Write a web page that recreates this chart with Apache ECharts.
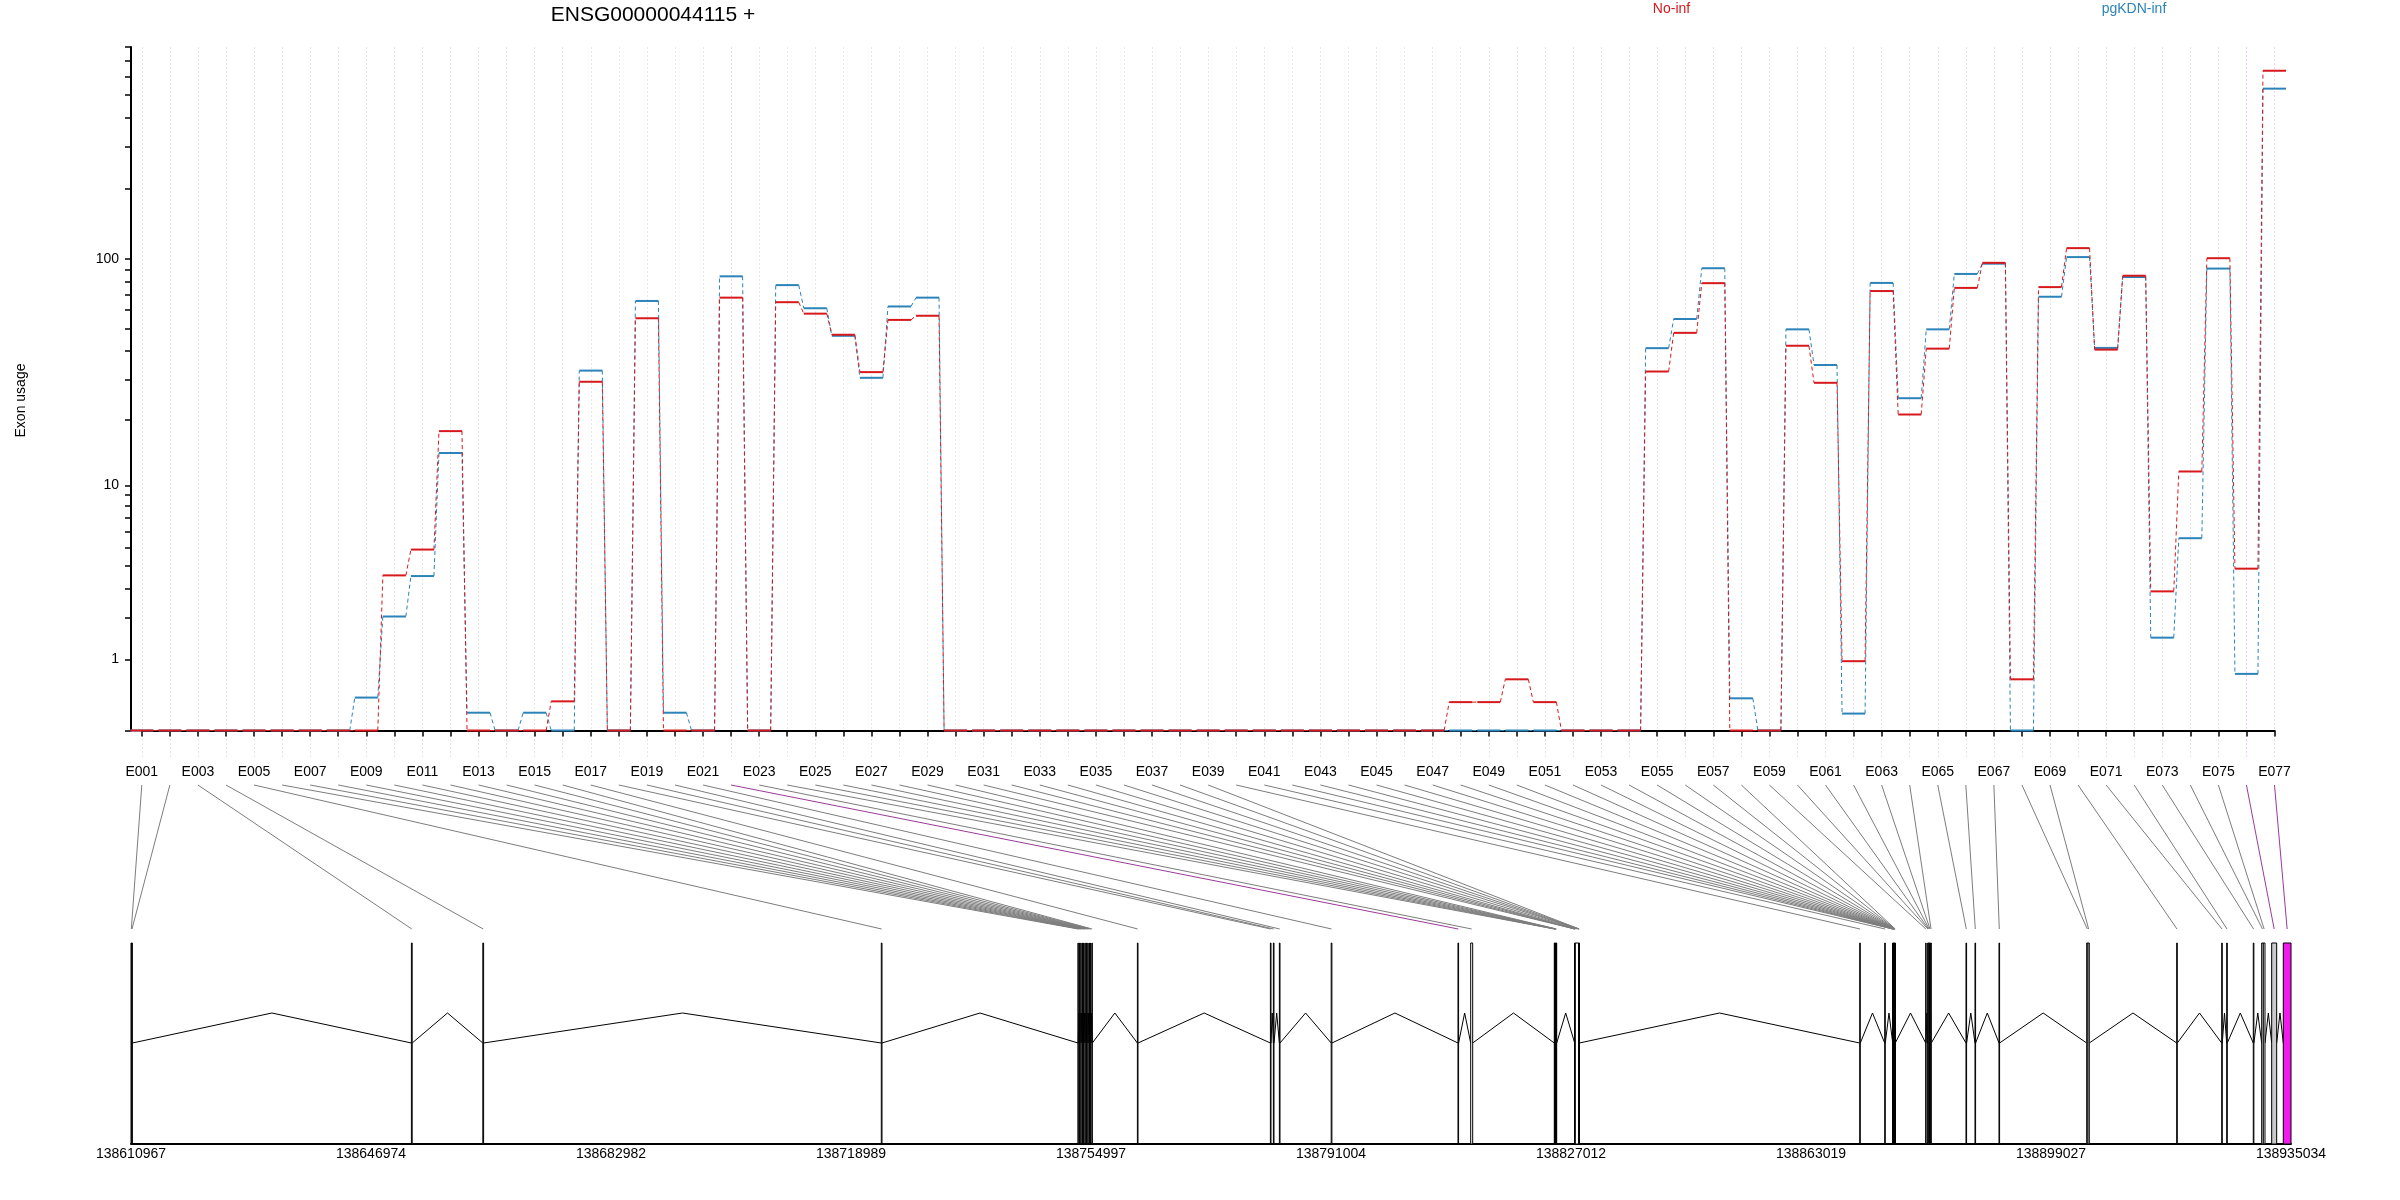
<!DOCTYPE html>
<html><head><meta charset="utf-8">
<script src="https://cdn.jsdelivr.net/npm/echarts@6/dist/echarts.min.js"></script>
<style>html,body{margin:0;padding:0;background:#fff}#c{width:2400px;height:1200px}</style>
</head><body><div id="c"></div>
<script>
const exonIds = ['E001','E002','E003','E004','E005','E006','E007','E008','E009','E010',
'E011','E012','E013','E014','E015','E016','E017','E018','E019','E020',
'E021','E022','E023','E024','E025','E026','E027','E028','E029','E030',
'E031','E032','E033','E034','E035','E036','E037','E038','E039','E040',
'E041','E042','E043','E044','E045','E046','E047','E048','E049','E050',
'E051','E052','E053','E054','E055','E056','E057','E058','E059','E060',
'E061','E062','E063','E064','E065','E066','E067','E068','E069','E070',
'E071','E072','E073','E074','E075','E076','E077'];
const noInf = [0,0,0,0,0,0,0,0,0,3.56,
4.87,17.7,0,0,0,0.33,29.3,0,55.4,0,
0,68,0,65,58,47,32.3,54.5,56.8,0,
0,0,0,0,0,0,0,0,0,0,
0,0,0,0,0,0,0,0.32,0.32,0.65,
0.32,0,0,0,32.5,47.9,78.5,0,0,42.1,
29,0.97,72.6,21,40.9,74.9,96,0.65,75.5,111,
40.5,84.5,2.9,11.6,100.5,3.87,634];
const pgKDN = [0,0,0,0,0,0,0,0,0.38,2.05,
3.53,14.1,0.19,0,0.19,0,32.8,0,65.8,0.19,
0,84,0,77,61.2,46.5,30.5,62.3,68,0,
0,0,0,0,0,0,0,0,0,0,
0,0,0,0,0,0,0,0,0,0,
0,0,0,0,41.1,55,91,0.37,0,49.6,
34.7,0.18,78.7,24.8,49.6,86,95.2,0,68.6,101.6,
41.2,83.4,1.48,5.56,90.7,0.74,532];
const exonStart = [138610967,138611057,138653035,138663748,138723535,
138753045,138753255,138753465,138753675,138753885,138754095,138754305,138754515,138754725,138754935,138755145,
138761957,138781911,138782361,138783261,138791033,138810057,138811962,
138824505,138824556,138824607,138824658,138824709,138824760,138824811,
138827565,138827588,138827610,138827633,138827655,138828165,138828188,138828210,138828233,
138870324,138874075,
138875275,138875298,138875321,138875344,138875367,138875390,138875413,138875436,138875459,138875482,138875505,138875528,138875551,138875574,138875597,138875620,138875643,
138880226,138880526,138880600,138880700,138880800,138880990,
138886272,138887622,138891223,138904381,138904576,138917883,138924635,138925385,138929376,138930636,138930876,138932136,138933877];
const exonEnd = [138611057,138611177,138653155,138663868,138723640,
138753085,138753295,138753505,138753715,138753925,138754135,138754345,138754555,138754765,138754975,138755195,
138762047,138782001,138782451,138783351,138791138,138810147,138812262,
138824556,138824607,138824658,138824709,138824760,138824811,138824865,
138827588,138827610,138827633,138827655,138828165,138828188,138828210,138828233,138828255,
138870414,138874165,
138875298,138875321,138875344,138875367,138875390,138875413,138875436,138875459,138875482,138875505,138875528,138875551,138875574,138875597,138875620,138875643,138875665,
138880286,138880600,138880700,138880800,138880950,138881066,
138886362,138887712,138891313,138904576,138904771,138917973,138924725,138925475,138929466,138930876,138931131,138932886,138935034];
const sigExons = ['E022','E076','E077'];
const yTickValues = [0,1,2,3,4,5,6,7,8,9,10,20,30,40,50,60,70,80,90,100,200,300,400,500,600,700,800];
const yLabelValues = [1,10,100];
const genomicTicks = [138610967,138646974,138682982,138718989,138754997,138791004,138827012,138863019,138899027,138935034];
const geneTitle = 'ENSG00000044115 +';
const conditions = ['No-inf','pgKDN-inf'];
const condColors = ['#D7191C','#2B83BA'];
const boxFills = {E076: '#c9c9c9', E077: '#F219ED'};

const FONT = '"Liberation Sans", Arial, Helvetica, sans-serif';
const HW = 0.41;
const tf = v => Math.log10(v + 1);
const chart = echarts.init(document.getElementById('c'), null, {renderer: 'canvas'});

// bottom panel vertical layout (units = px inside grid 2)
const CONN_TOP = 359, CONN_BOT = 215, EXON_TOP = 201, INTRON_PEAK = 131, INTRON_BASE = 101;

function segSeries(vals, color, z) {
  return {
    type: 'custom', xAxisIndex: 0, yAxisIndex: 0, z: z, clip: false, silent: true,
    data: vals.map((v, i) => [i + 1, tf(v)]),
    renderItem: function (params, api) {
      const x = api.value(0), y = api.value(1);
      const p1 = api.coord([x - HW, y]), p2 = api.coord([x + HW, y]);
      return {type: 'line', shape: {x1: p1[0], y1: p1[1], x2: p2[0], y2: p2[1]},
        style: {stroke: color, lineWidth: 2}};
    }
  };
}
function joinSeries(vals, color, z) {
  return {
    type: 'custom', xAxisIndex: 0, yAxisIndex: 0, z: z, clip: false, silent: true,
    data: vals.slice(0, -1).map((v, i) => [i + 1, tf(v), tf(vals[i + 1])]),
    renderItem: function (params, api) {
      const x = api.value(0);
      const p1 = api.coord([x + HW, api.value(1)]), p2 = api.coord([x + 1 - HW, api.value(2)]);
      return {type: 'line', shape: {x1: p1[0], y1: p1[1], x2: p2[0], y2: p2[1]},
        style: {stroke: color, lineWidth: 1, lineDash: [4, 3]}};
    }
  };
}

const gridColors = exonIds.map(id => sigExons.includes(id) ? 'rgba(242,25,237,0.22)' : 'rgba(170,170,170,0.28)');

const introns = [];
for (let i = 0; i < exonIds.length - 1; i++) {
  if (exonStart[i + 1] > exonEnd[i]) introns.push([exonEnd[i], exonStart[i + 1]]);
}

const option = {
  animation: false,
  backgroundColor: '#fff',
  textStyle: {fontFamily: FONT},
  grid: [
    {left: 141.8, right: 125.5, top: 47, bottom: 469.5},
    {left: 141.8, right: 125.5, top: 47, bottom: 443},
    {left: 131, right: 109, top: 785, bottom: 56}
  ],
  xAxis: [
    {type: 'value', gridIndex: 0, min: 1, max: 77, interval: 1, offset: 26.5,
      axisLine: {show: true, lineStyle: {color: '#000', width: 2}},
      axisTick: {show: true, length: 6, lineStyle: {color: '#000', width: 1.5}},
      splitLine: {show: false},
      axisLabel: {show: true, color: '#000', fontSize: 14, fontFamily: FONT, margin: 8,
        formatter: function (v) { const i = Math.round(v); return (i % 2 === 1) ? exonIds[i - 1] : ''; }}},
    {type: 'value', gridIndex: 1, min: 1, max: 77, interval: 1,
      axisLine: {show: false}, axisTick: {show: false}, axisLabel: {show: false},
      splitLine: {show: true, lineStyle: {color: gridColors, width: 1, type: [2, 2]}}},
    {type: 'value', gridIndex: 2, min: genomicTicks[0], max: genomicTicks[genomicTicks.length - 1],
      axisLine: {show: true, lineStyle: {color: '#000', width: 2}},
      axisTick: {show: false}, splitLine: {show: false},
      axisLabel: {show: true, color: '#000', fontSize: 14, fontFamily: FONT, margin: 3,
        customValues: genomicTicks, formatter: v => String(v)}}
  ],
  yAxis: [
    {type: 'value', gridIndex: 0, min: 0, max: tf(800), offset: 10.8,
      axisLine: {show: true, lineStyle: {color: '#000', width: 2}},
      axisTick: {show: true, length: 6, customValues: yTickValues.map(tf), lineStyle: {color: '#000', width: 1.5}},
      splitLine: {show: false},
      axisLabel: {show: true, color: '#000', fontSize: 14, fontFamily: FONT, margin: 12,
        customValues: yLabelValues.map(tf), formatter: v => String(Math.round(Math.pow(10, v) - 1))}},
    {type: 'value', gridIndex: 1, min: 0, max: 1, show: false},
    {type: 'value', gridIndex: 2, min: 0, max: 359, show: false}
  ],
  graphic: [
    {type: 'text', x: 653, y: 15, style: {text: geneTitle, fontSize: 21, fontFamily: FONT, fill: '#000', textAlign: 'center', textVerticalAlign: 'middle'}},
    {type: 'text', x: 1671.5, y: 9, style: {text: conditions[0], fontSize: 14, fontFamily: FONT, fill: condColors[0], textAlign: 'center', textVerticalAlign: 'middle'}},
    {type: 'text', x: 2134, y: 9, style: {text: conditions[1], fontSize: 14, fontFamily: FONT, fill: condColors[1], textAlign: 'center', textVerticalAlign: 'middle'}},
    {type: 'text', x: 21.5, y: 400.5, rotation: Math.PI / 2, style: {text: 'Exon usage', fontSize: 14, fontFamily: FONT, fill: '#000', textAlign: 'center', textVerticalAlign: 'middle'}}
  ],
  series: [
    joinSeries(pgKDN, condColors[1], 3),
    segSeries(pgKDN, condColors[1], 4),
    joinSeries(noInf, condColors[0], 5),
    segSeries(noInf, condColors[0], 6),
    {
      type: 'custom', xAxisIndex: 2, yAxisIndex: 2, z: 2, clip: false, silent: true,
      data: exonIds.map((id, i) => [(exonStart[i] + exonEnd[i]) / 2, i + 1, sigExons.includes(id) ? 1 : 0]),
      renderItem: function (params, api) {
        const bot = api.coord([api.value(0), CONN_BOT]);
        const topY = api.coord([api.value(0), CONN_TOP])[1];
        const topX = chart.convertToPixel({xAxisIndex: 0}, api.value(1));
        return {type: 'line', shape: {x1: topX, y1: topY, x2: bot[0], y2: bot[1]},
          style: {stroke: api.value(2) ? '#9b3a9b' : '#7d7d7d', lineWidth: 1}};
      }
    },
    {
      type: 'custom', xAxisIndex: 2, yAxisIndex: 2, z: 2, clip: false, silent: true,
      data: introns,
      renderItem: function (params, api) {
        const a = api.coord([api.value(0), INTRON_BASE]);
        const m = api.coord([(api.value(0) + api.value(1)) / 2, INTRON_PEAK]);
        const b = api.coord([api.value(1), INTRON_BASE]);
        return {type: 'polyline', shape: {points: [a, m, b]}, style: {stroke: '#000', lineWidth: 1, fill: null}};
      }
    },
    {
      type: 'custom', xAxisIndex: 2, yAxisIndex: 2, z: 3, clip: false, silent: true,
      data: exonIds.map((id, i) => [exonStart[i], exonEnd[i], i]),
      renderItem: function (params, api) {
        const p1 = api.coord([api.value(0), EXON_TOP]);
        const p2 = api.coord([api.value(1), 0]);
        const w = Math.max(p2[0] - p1[0], 0.2);
        const fill = boxFills[exonIds[api.value(2)]] || '#fff';
        return {type: 'rect', shape: {x: p1[0], y: p1[1], width: w, height: p2[1] - p1[1]},
          style: {fill: fill, stroke: '#000', lineWidth: 1}};
      }
    }
  ]
};
chart.setOption(option);
</script></body></html>
